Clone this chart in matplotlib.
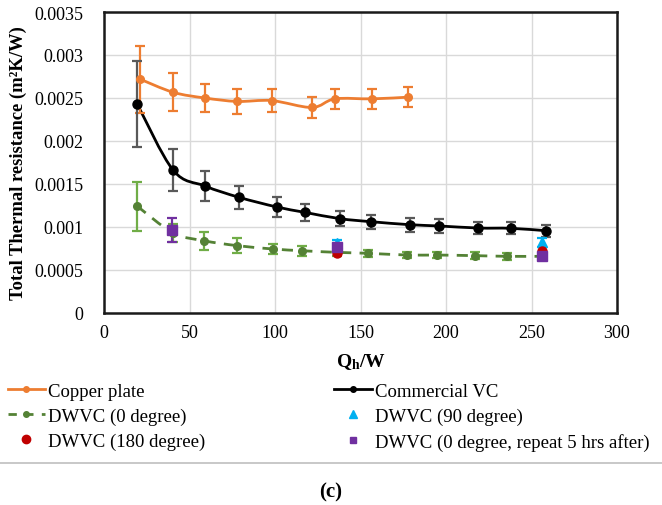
import matplotlib
matplotlib.use("Agg")
import matplotlib.pyplot as plt
import numpy as np
from matplotlib.path import Path
from matplotlib.patches import PathPatch
from matplotlib.lines import Line2D

plt.rcParams['font.family'] = ['Liberation Serif', 'DejaVu Serif']
plt.rcParams['mathtext.fontset'] = 'custom'
plt.rcParams['mathtext.rm'] = 'Liberation Serif'
plt.rcParams['mathtext.bf'] = 'Liberation Serif:bold'
plt.rcParams['mathtext.it'] = 'Liberation Serif:italic'

# ---- data ----
copper_x = [21, 40.5, 59, 78, 98, 121.6, 135, 156.7, 178]
copper_y = [0.00272, 0.002566, 0.0025, 0.00246, 0.00247, 0.00239, 0.00249, 0.00249, 0.00251]
copper_err = [0.00039, 0.00022, 0.000166, 0.000145, 0.00013, 0.000122, 0.00012, 0.000118, 0.000116]

vc_x = [19.5, 40.5, 59, 79, 101, 117.3, 138, 156, 178.7, 196, 219, 237.8, 258.3]
vc_y = [0.002427, 0.001659, 0.001477, 0.001345, 0.001233, 0.001171, 0.001097, 0.001062,
        0.001027, 0.001012, 0.000988, 0.000985, 0.000957]
vc_err = [0.000498, 0.000246, 0.000176, 0.000137, 0.000114, 0.0001, 0.000091, 0.000083,
          0.00008, 0.000078, 0.000074, 0.00007, 0.00007]

dw0_x = [19.3, 40.5, 58.2, 78, 99, 115.8, 136.4, 154.6, 177.4, 194.7, 216.8, 235.7, 256]
dw0_y = [0.001244, 0.00093, 0.000841, 0.000783, 0.000744, 0.000724, 0.000705, 0.000694,
         0.000674, 0.000674, 0.000667, 0.000659, 0.000659]
dw0_err = [0.000285, 0.00011, 0.000106, 0.000085, 0.00006, 0.00006, 0.00004, 0.00004,
           0.00004, 0.00004, 0.00004, 0.00004, 0.00004]

dw90_x = [136, 256]
dw90_y = [0.00081, 0.00082]
dw90_err = [0.00004, 0.00005]

dw180_x = [136, 256]
dw180_y = [0.0007, 0.000724]

rep_x = [40, 136, 256]
rep_y = [0.000969, 0.000764, 0.000667]
rep_err = [0.00014, 0.00004, 0.00003]

xticks = [0, 50, 100, 150, 200, 250, 300]
yticks = [0, 0.0005, 0.001, 0.0015, 0.002, 0.0025, 0.003, 0.0035]
ytick_labels = ['0', '0.0005', '0.001', '0.0015', '0.002', '0.0025', '0.003', '0.0035']

C_OR = '#ED7D31'
C_BK = '#000000'
C_BKE = '#595959'
C_GR = '#548235'
C_GRE = '#70AD47'
C_BL = '#00B0F0'
C_RD = '#C00000'
C_PU = '#7030A0'


def smooth_path(x, y, t=1/6):
    x = np.asarray(x, float); y = np.asarray(y, float)
    n = len(x)
    verts = [(x[0], y[0])]
    codes = [Path.MOVETO]
    for i in range(n - 1):
        p0 = (x[max(i - 1, 0)], y[max(i - 1, 0)])
        p1 = (x[i], y[i]); p2 = (x[i + 1], y[i + 1])
        p3 = (x[min(i + 2, n - 1)], y[min(i + 2, n - 1)])
        c1 = (p1[0] + (p2[0] - p0[0]) * t, p1[1] + (p2[1] - p0[1]) * t)
        c2 = (p2[0] - (p3[0] - p1[0]) * t, p2[1] - (p3[1] - p1[1]) * t)
        verts += [c1, c2, p2]
        codes += [Path.CURVE4] * 3
    return Path(verts, codes)


fig = plt.figure(figsize=(6.62, 5.06), dpi=100)
ax = fig.add_axes([104/662, 1 - 314/506, (617-104)/662, (314-13)/506])

ax.set_xlim(0, 300)
ax.set_ylim(0, 0.0035)
ax.set_xticks(xticks)
ax.set_yticks(yticks)
ax.set_yticklabels(ytick_labels)
ax.grid(True, color='#D9D9D9', linewidth=1)
ax.set_axisbelow(True)
for s in ax.spines.values():
    s.set_linewidth(1.8)
    s.set_color('#1a1a1a')
ax.tick_params(axis='both', length=0, labelsize=13)
ax.tick_params(axis='y', pad=15)
ax.tick_params(axis='x', pad=8)

# lines (smoothed)
ax.add_patch(PathPatch(smooth_path(copper_x, copper_y), fill=False, edgecolor=C_OR, lw=2, zorder=3))
ax.add_patch(PathPatch(smooth_path(vc_x, vc_y), fill=False, edgecolor=C_BK, lw=2, zorder=3))
ax.add_patch(PathPatch(smooth_path(dw0_x, dw0_y), fill=False, edgecolor=C_GR, lw=2,
                       linestyle=(0, (4, 3)), zorder=3))

# error bars
ax.errorbar(copper_x, copper_y, yerr=copper_err, fmt='none', ecolor=C_OR, elinewidth=1.6, capsize=3.5, capthick=1.6, zorder=4)
ax.errorbar(vc_x, vc_y, yerr=vc_err, fmt='none', ecolor=C_BKE, elinewidth=1.6, capsize=3.5, capthick=1.6, zorder=4)
ax.errorbar(dw0_x, dw0_y, yerr=dw0_err, fmt='none', ecolor=C_GRE, elinewidth=1.6, capsize=3.5, capthick=1.6, zorder=4)
ax.errorbar(dw90_x, dw90_y, yerr=dw90_err, fmt='none', ecolor=C_BL, elinewidth=1.6, capsize=3.5, capthick=1.6, zorder=4)
ax.errorbar(rep_x, rep_y, yerr=rep_err, fmt='none', ecolor=C_PU, elinewidth=1.6, capsize=3.5, capthick=1.6, zorder=4)

# markers
ax.plot(copper_x, copper_y, 'o', color=C_OR, ms=5.5, zorder=5)
ax.plot(vc_x, vc_y, 'o', color=C_BK, ms=6.5, zorder=5)
ax.plot(dw0_x, dw0_y, 'o', color=C_GR, ms=5.5, zorder=5)
ax.plot(dw90_x, dw90_y, '^', color=C_BL, ms=6.5, zorder=6)
ax.plot(dw180_x, dw180_y, 'o', color=C_RD, ms=6.5, zorder=6)
ax.plot(rep_x, rep_y, 's', color=C_PU, ms=6.5, zorder=7)

ax.set_ylabel('Total Thermal resistance (m²K/W)', fontsize=13.4, fontweight='bold', labelpad=5)
ax.set_xlabel(r'$\mathbf{Q_h}$/W', fontsize=14, fontweight='bold', labelpad=7)

# legend
h_cu = Line2D([], [], color=C_OR, lw=2, marker='o', ms=4)
h_vc = Line2D([], [], color=C_BK, lw=2, marker='o', ms=4)
h_d0 = Line2D([], [], color=C_GR, lw=2, linestyle=(0, (3, 3)), marker='o', ms=4)
h_90 = Line2D([], [], color=C_BL, lw=0, marker='^', ms=6)
h_180 = Line2D([], [], color=C_RD, lw=0, marker='o', ms=6)
h_rep = Line2D([], [], color=C_PU, lw=0, marker='s', ms=5)
handles = [h_cu, h_d0, h_180, h_vc, h_90, h_rep]
labels = ['Copper plate', 'DWVC (0 degree)', 'DWVC (180 degree)',
          'Commercial VC', 'DWVC (90 degree)', 'DWVC (0 degree, repeat 5 hrs after)']
fig.legend(handles, labels, ncol=2, loc='upper left', bbox_to_anchor=(0.0, 1 - 376/506),
           frameon=False, fontsize=13.5, handlelength=2.0, handletextpad=0.15,
           columnspacing=6.9, labelspacing=0.42, borderaxespad=0)

fig.add_artist(Line2D([0, 1], [1 - 464/506, 1 - 464/506], color='#BFBFBF', lw=1.2))
fig.text(0.5, 1 - 492/506, '(c)', ha='center', va='center', fontsize=15, fontweight='bold')

fig.savefig('out.png', dpi=100)
